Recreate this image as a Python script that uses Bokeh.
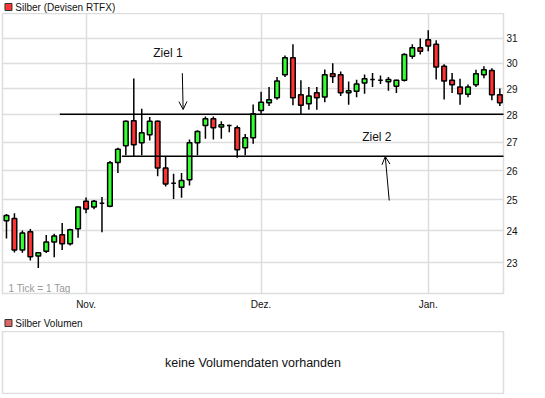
from bokeh.plotting import figure
from bokeh.layouts import column
from bokeh.models import (Range1d, FixedTicker, PrintfTickFormatter, ColumnDataSource,
                          Label, Arrow, OpenHead)
from bokeh.core.properties import value
from bokeh.embed import file_html
from bokeh.resources import INLINE

# ---------------- data ----------------
days = list(range(63))  # trading days (1 Tick = 1 Tag)
opens = [24.32, 24.39, 23.39, 23.96, 23.20, 23.35, 23.64, 23.87, 23.58, 24.06,
         24.96, 24.77, 24.89, 24.79, 26.28, 26.87, 27.78, 26.98, 27.27, 27.76,
         26.09, 25.56, 25.43, 25.68, 26.98, 27.61, 27.86, 27.55, 27.61, 27.52,
         26.80, 27.16, 28.16, 28.46, 28.65, 29.54, 30.21, 28.76, 28.42, 28.84,
         28.68, 29.58, 29.54, 28.84, 28.90, 29.22, 29.35, 29.32, 29.26, 29.09,
         29.32, 30.28, 30.62, 30.95, 30.76, 29.87, 29.32, 29.06, 28.78, 29.15,
         29.54, 29.71, 28.76]
highs = [24.54, 24.56, 24.00, 24.05, 23.32, 23.86, 23.90, 24.24, 24.06, 24.78,
         25.08, 25.00, 25.10, 26.33, 26.80, 27.79, 29.39, 28.23, 27.92, 27.79,
         26.49, 25.89, 25.91, 27.10, 27.43, 27.94, 27.94, 27.76, 27.63, 27.61,
         27.30, 28.39, 28.88, 29.06, 29.45, 30.31, 30.76, 29.32, 29.06, 29.06,
         29.75, 29.99, 29.67, 29.27, 29.34, 29.55, 29.61, 29.51, 29.45, 29.34,
         30.40, 30.76, 31.00, 31.34, 30.93, 29.95, 29.61, 29.38, 29.16, 29.74,
         29.87, 29.80, 29.00]
lows = [23.75, 23.31, 23.30, 23.06, 22.83, 23.29, 23.16, 23.39, 23.53, 23.77,
        24.56, 24.69, 23.95, 24.76, 25.91, 26.53, 26.47, 26.53, 27.06, 25.80,
        25.45, 25.03, 25.07, 25.49, 26.53, 27.12, 27.10, 27.12, 27.36, 26.45,
        26.53, 26.94, 28.04, 28.33, 28.57, 29.45, 28.36, 28.02, 28.19, 28.19,
        28.48, 29.22, 28.71, 28.38, 28.67, 28.80, 29.06, 29.18, 28.92, 28.83,
        29.27, 30.17, 30.35, 30.48, 29.35, 28.58, 28.83, 28.38, 28.67, 29.06,
        29.40, 28.55, 28.33]
closes = [24.49, 23.39, 23.92, 23.18, 23.30, 23.64, 23.83, 23.58, 24.03, 24.77,
          24.70, 24.96, 24.89, 26.27, 26.75, 27.76, 26.91, 27.34, 27.76, 26.09,
          25.54, 25.56, 25.66, 26.98, 27.39, 27.86, 27.52, 27.63, 27.61, 26.73,
          27.16, 28.04, 28.48, 28.57, 29.29, 30.21, 28.65, 28.36, 28.71, 28.65,
          29.54, 29.47, 28.84, 28.92, 29.18, 29.38, 29.35, 29.32, 29.35, 29.32,
          30.35, 30.62, 30.48, 30.69, 29.84, 29.29, 29.15, 28.80, 29.06, 29.58,
          29.74, 28.76, 28.46]

month_ticks = [10, 32, 53]
month_labels = ["Nov.", "Dez.", "Jan."]
price_ticks = [23, 24, 25, 26, 27, 28, 29, 30, 31]

ziel_levels = [28.02, 26.5]
ziel_start_day = [6.7, 14.5]
ziel_end_day = [67.0, 63.3]
ziel_names = ["Ziel 1", "Ziel 2"]

FONT = "Liberation Sans"
GREEN = "#33ff33"
RED = "#ff3333"
GRID = "#dddddd"
W = 545

colors = [GREEN if c >= o else RED for o, c in zip(opens, closes)]
src = ColumnDataSource(dict(
    x=days, top=[max(o, c) for o, c in zip(opens, closes)],
    bottom=[min(o, c) for o, c in zip(opens, closes)],
    high=highs, low=lows, color=colors))


def header(height, label, color, text_y):
    h = figure(width=W, height=height, x_range=Range1d(0, W), y_range=Range1d(0, height),
               x_axis_location=None, y_axis_location=None, toolbar_location=None,
               output_backend="svg", min_border=0)
    h.grid.visible = False
    h.outline_line_color = None
    h.scatter(x=[6.5], y=[text_y], marker="square", size=7, fill_color=color,
              line_color="#333333", line_width=1)
    h.text(x=[14], y=[text_y], text=[label], text_font=value(FONT), text_font_size="10px",
           text_baseline="middle", text_color="#111111")
    return h


h1 = header(13, "Silber (Devisen RTFX)", RED, 6.5)

# ---------------- price chart ----------------
p = figure(width=W, height=300, x_range=Range1d(-0.5, 62.46),
           y_range=Range1d(22.07, 32.05), y_axis_type="log",
           y_axis_location="right", toolbar_location=None, output_backend="svg",
           min_border_left=2, min_border_right=42, min_border_top=0,
           min_border_bottom=20)
p.outline_line_color = GRID
p.outline_line_width = 1.5

p.xaxis.ticker = FixedTicker(ticks=month_ticks)
p.xaxis.major_label_overrides = {t: l for t, l in zip(month_ticks, month_labels)}
p.yaxis.ticker = FixedTicker(ticks=price_ticks)
p.yaxis.formatter = PrintfTickFormatter(format="%d")
for ax in (p.xaxis, p.yaxis):
    ax.axis_line_color = None
    ax.major_tick_line_color = None
    ax.minor_tick_line_color = None
    ax.major_tick_in = 0
    ax.major_tick_out = 0
    ax.minor_tick_in = 0
    ax.minor_tick_out = 0
    ax.major_label_text_font = FONT
    ax.major_label_text_font_size = "10px"
    ax.major_label_text_color = "#111111"
p.xaxis.major_label_standoff = 5
p.yaxis.major_label_standoff = 3
p.grid.grid_line_color = GRID
p.grid.grid_line_width = 1.5

# candles
p.segment(x0="x", y0="low", x1="x", y1="high", source=src,
          line_color="black", line_width=1.5)
p.vbar(x="x", width=0.58, top="top", bottom="bottom", source=src,
       fill_color="color", line_color="black", line_width=1.5)

# Ziel lines
for x0, x1, lvl in zip(ziel_start_day, ziel_end_day, ziel_levels):
    p.add_layout(Arrow(end=None, x_start=x0, y_start=lvl, x_end=x1, y_end=lvl,
                       line_color="black", line_width=1.5))

# Ziel annotations
p.add_layout(Label(x=18.45, y=30.41, text=ziel_names[0], text_font=FONT,
                   text_font_size="12px", text_baseline="middle", text_color="#111111"))
p.add_layout(Label(x=44.7, y=27.17, text=ziel_names[1], text_font=FONT,
                   text_font_size="12px", text_baseline="middle", text_color="#111111"))
p.add_layout(Arrow(end=OpenHead(size=8, line_width=1), x_start=22.1, y_start=29.6,
                   x_end=22.2, y_end=28.2, line_width=1))
p.add_layout(Arrow(end=OpenHead(size=8, line_width=1), x_start=48.1, y_start=24.98,
                   x_end=47.6, y_end=26.49, line_width=1))
p.add_layout(Label(x=0.25, y=22.23, text="1 Tick = 1 Tag", text_font=FONT,
                   text_font_size="10px", text_baseline="middle", text_color="#999999"))

h2 = header(18, "Silber Volumen", "#dd6666", 8.5)

# ---------------- volume panel ----------------
p2 = figure(width=W, height=63, x_range=Range1d(0, 1), y_range=Range1d(0, 1),
            x_axis_location=None, y_axis_location=None, toolbar_location=None,
            output_backend="svg", min_border_left=2, min_border_right=42,
            min_border_top=0, min_border_bottom=1)
p2.grid.visible = False
p2.outline_line_color = GRID
p2.outline_line_width = 1.5
p2.add_layout(Label(x=0.5, y=0.5, text="keine Volumendaten vorhanden", text_font=FONT,
                    text_font_size="12.5px", text_align="center", text_baseline="middle",
                    text_color="#111111"))

layout = column(h1, p, h2, p2, spacing=0)
open("out.html", "w").write(file_html(layout, INLINE))
